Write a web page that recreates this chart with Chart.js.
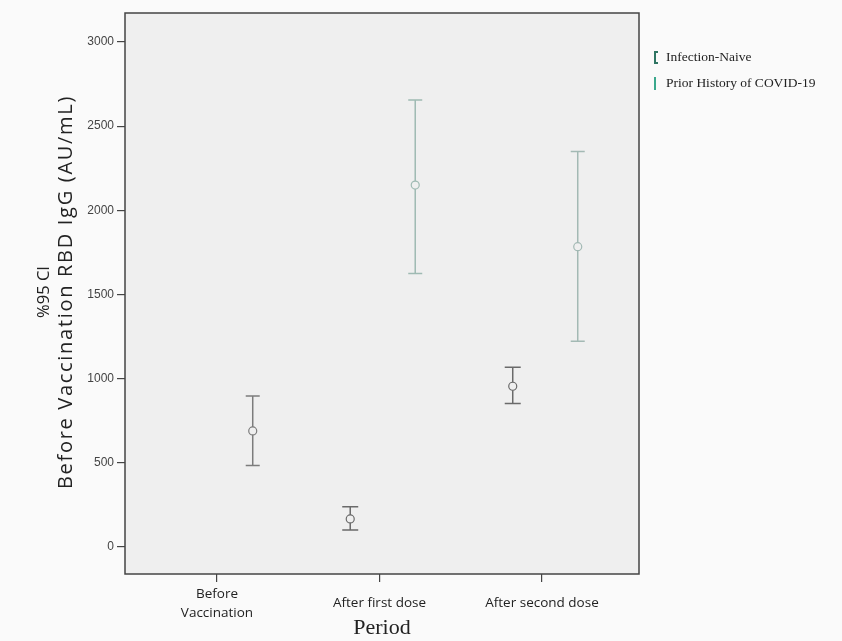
<!DOCTYPE html>
<html>
<head>
<meta charset="utf-8">
<script src="https://cdn.jsdelivr.net/npm/chart.js@4.4.1/dist/chart.umd.min.js"></script>
<style>
    body { margin: 0; background: #fafafa; }
    #wrap { position: relative; width: 842px; height: 641px; }
    #legend { position: absolute; left: 654px; top: 49px; font-family: "Liberation Serif", serif; font-size: 13.5px; color: #222; }
    #legend div { height: 26px; display: flex; align-items: flex-start; }
    .mark { display: inline-block; width: 4px; height: 13px; margin-right: 8px; margin-top: 2px; box-sizing: border-box; }
    .naive { border: 2px solid #2f7563; border-right: none; }
    .prior { border-left: 2px solid #3aa88c; }
    .ytitle { position: absolute; top: 292px; white-space: nowrap; font-family: "Open Sans", sans-serif; color: #222; transform: translate(-50%, -50%) rotate(-90deg); }
    #yt1 { left: 42px; font-size: 16.5px; }
    #yt2 { left: 64px; font-size: 20px; letter-spacing: 1.7px; }
</style>
</head>
<body>
<div id="wrap">
    <canvas id="chart" width="842" height="641"></canvas>
    <div class="ytitle" id="yt1">%95 CI</div>
    <div class="ytitle" id="yt2">Before Vaccination RBD IgG (AU/mL)</div>
    <div id="legend">
        <div><span class="mark naive"></span>Infection-Naive</div>
        <div><span class="mark prior"></span>Prior History of COVID-19</div>
    </div>
</div>
<script>
const categories = [["Before", "Vaccination"], "After first dose", "After second dose"];
const yTicks = [0, 500, 1000, 1500, 2000, 2500, 3000];

// Infection-Naive: mean and 95% CI
const naiveMean = [null, 167, 955];
const naiveLow = [null, 101, 853];
const naiveHigh = [null, 239, 1068];

// Prior History of COVID-19: mean and 95% CI
const priorMean = [690, 2150, 1784];
const priorLow = [485, 1625, 1223];
const priorHigh = [897, 2655, 2350];

const naiveOffset = -0.18;
const priorOffset = 0.22;

function toPoints(means, low, high, offset) {
    const points = [];
    means.forEach((m, i) => {
        if (m !== null) {
            points.push({ x: i + 1 + offset, y: m, low: low[i], high: high[i], k: i });
        }
    });
    return points;
}

const errorBars = {
    id: "errorBars",
    afterDatasetsDraw(chart) {
        const ctx = chart.ctx;
        const xs = chart.scales.x;
        const ys = chart.scales.y;
        chart.data.datasets.forEach((ds) => {
            ds.data.forEach((pt) => {
                const px = xs.getPixelForValue(pt.x);
                const top = ys.getPixelForValue(pt.high);
                const bottom = ys.getPixelForValue(pt.low);
                const mid = ys.getPixelForValue(pt.y);
                ctx.save();
                ctx.strokeStyle = ds.barColors[pt.k];
                ctx.lineWidth = 1.5;
                ctx.beginPath();
                ctx.moveTo(px, top);
                ctx.lineTo(px, mid - 4);
                ctx.moveTo(px, mid + 4);
                ctx.lineTo(px, bottom);
                ctx.moveTo(px - ds.capWidth, top);
                ctx.lineTo(px + ds.capWidth, top);
                ctx.moveTo(px - ds.capWidth, bottom);
                ctx.lineTo(px + ds.capWidth, bottom);
                ctx.stroke();
                ctx.restore();
            });
        });
    }
};

const plotBackground = {
    id: "plotBackground",
    beforeDraw(chart) {
        const a = chart.chartArea;
        const ctx = chart.ctx;
        ctx.save();
        ctx.fillStyle = "#efefef";
        ctx.fillRect(a.left, a.top, a.right - a.left, a.bottom - a.top);
        ctx.restore();
    },
    afterDraw(chart) {
        const a = chart.chartArea;
        const ctx = chart.ctx;
        ctx.save();
        ctx.strokeStyle = "#444";
        ctx.lineWidth = 1.5;
        ctx.strokeRect(a.left, a.top, a.right - a.left, a.bottom - a.top);
        ctx.restore();
    }
};

new Chart(document.getElementById("chart").getContext("2d"), {
    type: "scatter",
    data: {
        datasets: [
            {
                label: "Infection-Naive",
                data: toPoints(naiveMean, naiveLow, naiveHigh, naiveOffset),
                barColors: ["#6a6a6a", "#6a6a6a", "#6a6a6a"],
                capWidth: 8,
                pointRadius: 4,
                pointBorderColor: "#6a6a6a",
                pointBackgroundColor: "rgba(0,0,0,0)",
                pointBorderWidth: 1.2
            },
            {
                label: "Prior History of COVID-19",
                data: toPoints(priorMean, priorLow, priorHigh, priorOffset),
                barColors: ["#7c7c7c", "#9fbab3", "#a3b9b4"],
                capWidth: 7,
                pointRadius: 4,
                pointBorderColor: ["#7c7c7c", "#9fbab3", "#a3b9b4"],
                pointBackgroundColor: "rgba(0,0,0,0)",
                pointBorderWidth: 1.2
            }
        ]
    },
    options: {
        responsive: false,
        animation: false,
        layout: { padding: { top: 13, right: 203, left: 0, bottom: 0 } },
        plugins: {
            legend: { display: false },
            tooltip: { enabled: false }
        },
        scales: {
            x: {
                type: "linear",
                min: 0.434,
                max: 3.597,
                afterBuildTicks(scale) {
                    scale.ticks = categories.map((c, i) => ({ value: i + 1 }));
                },
                afterFit(scale) {
                    scale.height = 67;
                },
                ticks: {
                    callback: (v) => categories[v - 1],
                    color: "#222",
                    font: { family: "Open Sans", size: 13.5, lineHeight: 1.4 },
                    crossAlign: "center",
                    padding: 12,
                    maxRotation: 0
                },
                grid: { drawOnChartArea: false, drawTicks: true, tickLength: 8, color: "#444", lineWidth: 1.2 },
                border: { display: false },
                title: {
                    display: true,
                    text: "Period",
                    color: "#222",
                    font: { family: "Liberation Serif", size: 22 },
                    padding: { top: 0, bottom: 0 }
                }
            },
            y: {
                min: -160,
                max: 3172,
                afterBuildTicks(scale) {
                    scale.ticks = yTicks.map((v) => ({ value: v }));
                },
                afterFit(scale) {
                    scale.width = 125;
                },
                ticks: {
                    callback: (v) => String(v),
                    color: "#444",
                    font: { family: "Liberation Sans", size: 12 },
                    padding: 3
                },
                grid: { drawOnChartArea: false, drawTicks: true, tickLength: 8, color: "#444", lineWidth: 1.2 },
                border: { display: false }
            }
        }
    },
    plugins: [plotBackground, errorBars]
});
</script>
</body>
</html>
